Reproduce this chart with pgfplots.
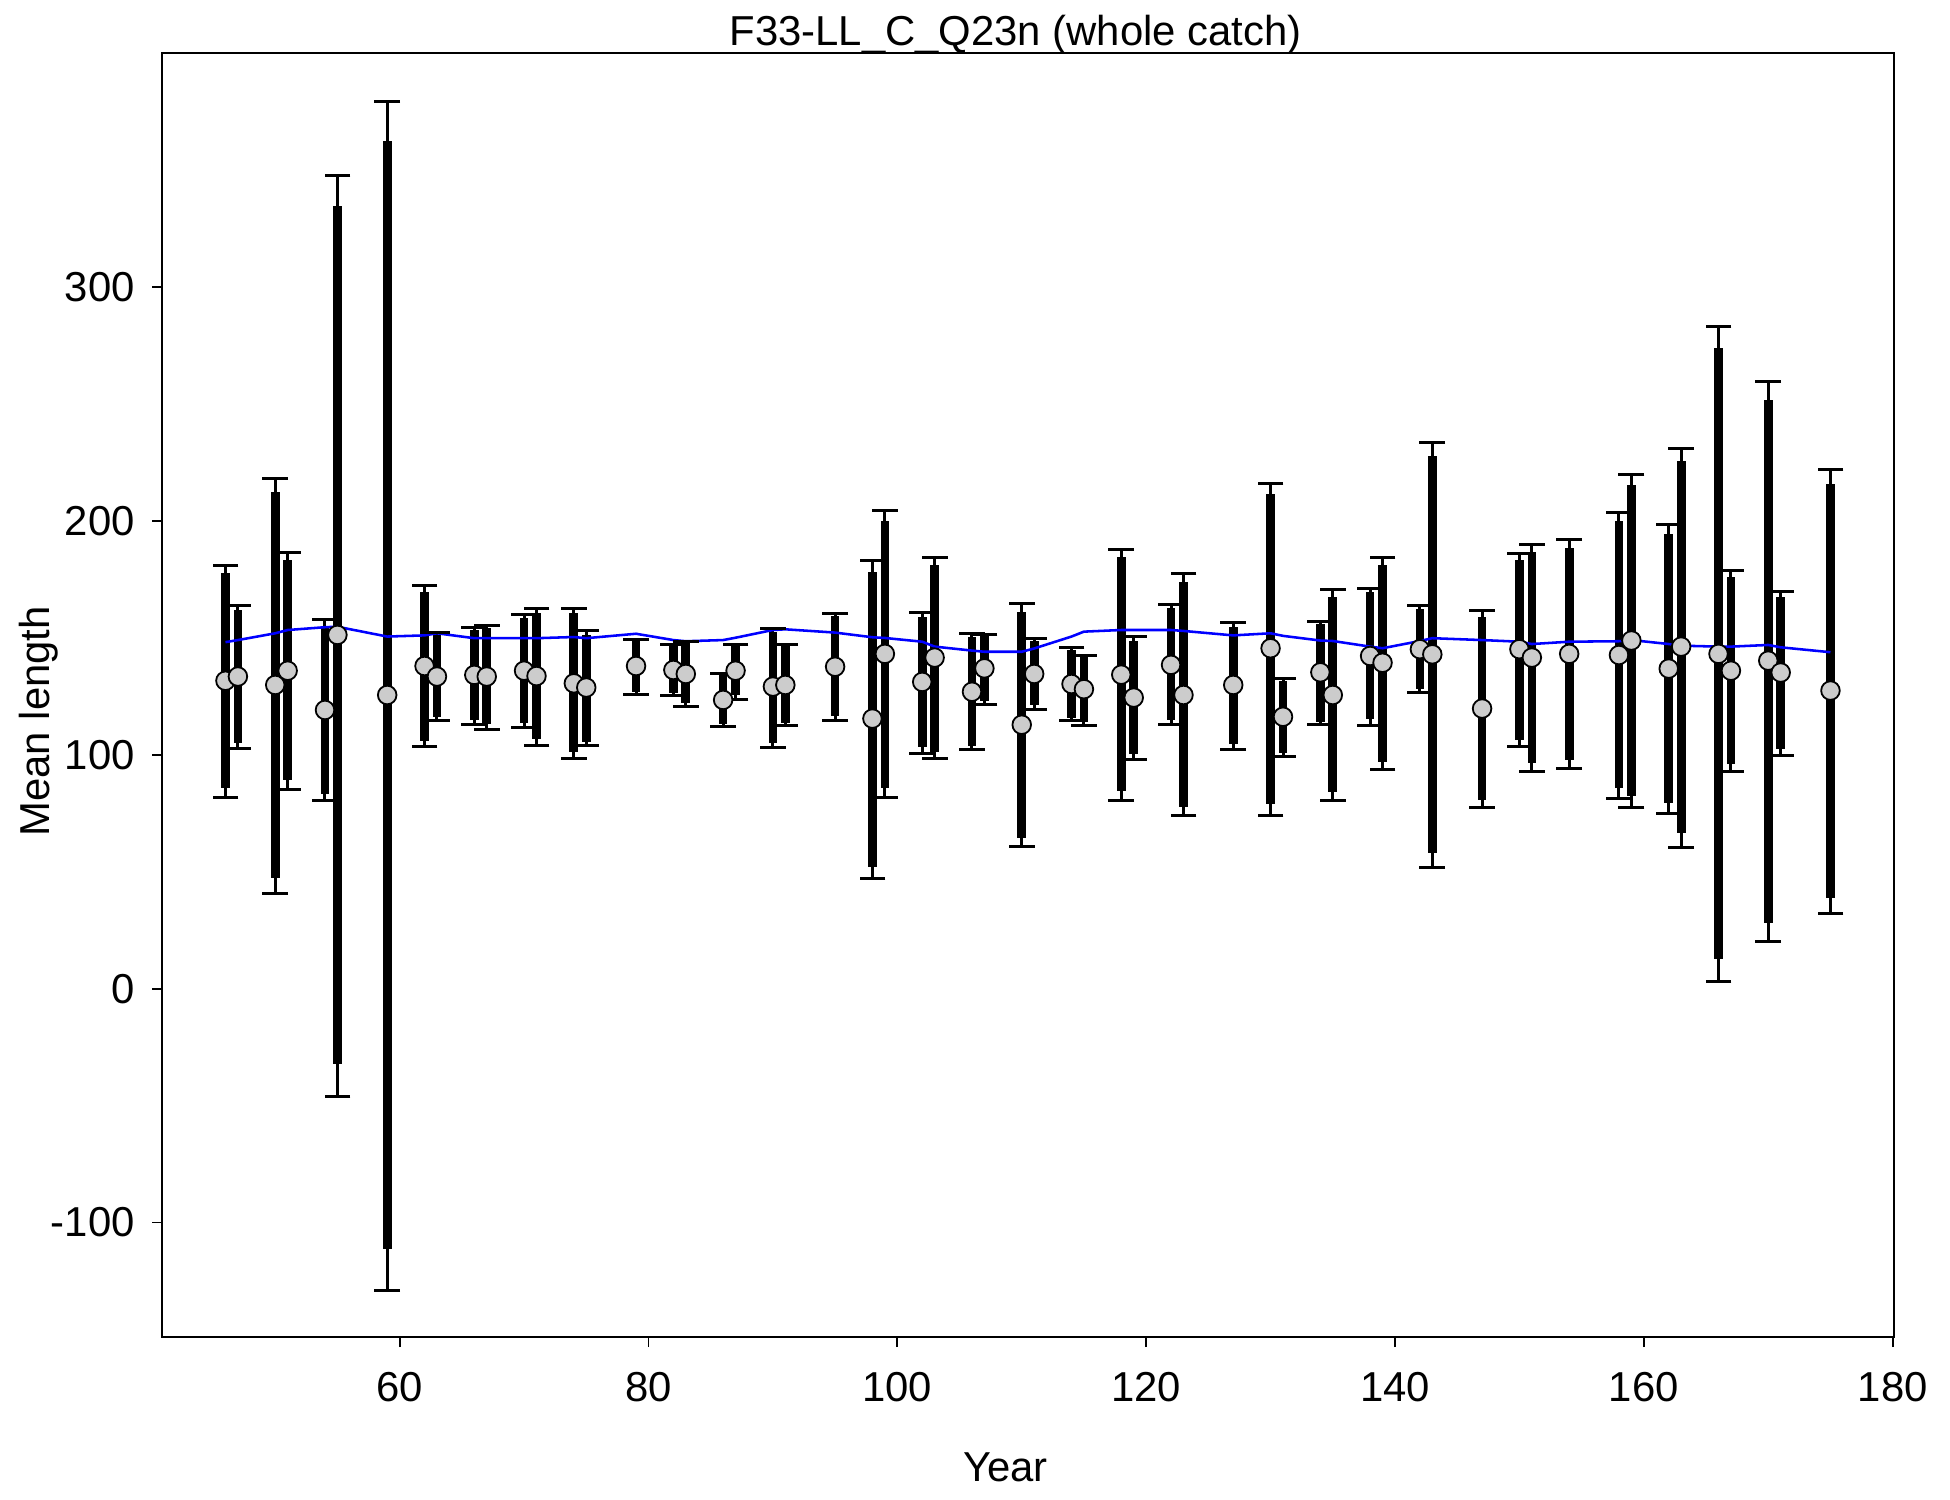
\documentclass[border=0pt]{standalone}
\usepackage{fontspec}
\setmainfont{Liberation Sans}
\usepackage{pgfplots}
\pgfplotsset{compat=1.18}
\usepackage{pgfplotstable}

% year, observed mean, outer CI (tlo,thi), inner CI (blo,bhi), expected
\pgfplotstableread{
x   m     tlo     thi    blo     bhi    e
46  131.7  81.9   181.1   85.7   177.7  148.2
47  133.5 102.8   164.0  105.2   162.0  149.1
50  129.9  40.8   218.3   47.2   212.3  152.0
51  136.0  85.3   186.7   89.3   183.4  153.4
54  119.2  80.3   158.0   83.3   154.1  154.6
55  151.3 -46.0   347.9  -32.3   334.8  154.8
59  125.6 -129.0  379.5 -111.3   362.6  150.6
62  138.0 103.7   172.5  106.1   169.8  151.1
63  133.5 114.8   152.3  116.3   151.3  152.0
66  134.2 113.1   154.6  114.9   153.4  149.9
67  133.5 110.9   155.4  113.1   154.1  149.9
70  136.0 111.9   160.1  113.8   158.4  149.9
71  133.7 104.1   162.7  106.7   160.6  149.9
74  130.6  98.5   162.7  101.1   160.6  150.4
75  128.8 103.8   153.3  105.6   151.3  149.9
79  138.0 125.9   149.4  127.0   149.1  151.8
82  136.3 125.2   147.4  126.3   147.0  149.1
83  134.6 120.9   148.4  122.1   147.7  148.6
86  123.5 112.1   134.9  113.2   134.6  149.1
87  136.0 123.8   147.3  125.6   147.0  150.1
90  129.2 103.2   154.1  105.2   152.7  153.4
91  129.9 112.4   147.3  113.8   146.6  153.7
95  137.7 114.5   160.6  116.6   159.4  152.3
98  115.5  47.2   183.2   52.2   178.4  150.3
99  143.2  81.9   204.3   86.0   200.0  150.0
102 131.2 100.7   161.0  103.2   159.1  148.4
103 141.6  98.5   184.2  101.4   181.2  146.3
106 127.0 102.1   152.0  103.9   150.3  144.6
107 137.0 121.6   151.6  123.2   150.9  144.1
110 112.9  60.7   164.8   64.3   161.0  144.1
111 134.6 119.5   149.9  121.2   148.7  145.5
114 130.3 114.6   145.9  115.9   144.9  150.6
115 128.1 112.7   142.6  114.2   142.0  152.7
118 134.3  80.3   187.9   84.6   184.8  153.4
119 124.5  98.1   150.6  100.2   148.7  153.4
122 138.5 112.8   164.4  114.9   162.7  153.4
123 125.6  73.9   177.5   77.8   174.1  153.0
127 129.9 102.4   156.7  104.7   154.8  151.1
130 145.6  73.9   216.2   78.9   211.6  152.0
131 116.3  99.5   132.8  100.7   131.6  150.9
134 135.3 112.8   157.1  114.2   156.0  148.9
135 125.6  80.7   170.8   84.0   167.4  148.7
138 142.3 112.7   171.3  115.2   169.5  146.3
139 139.4  93.8   184.5   97.1   181.2  145.6
142 145.2 126.8   163.7  128.1   162.4  148.7
143 143.0  51.9   233.7   58.2   227.8  149.9
147 119.8  77.6   161.8   80.7   158.9  149.1
150 145.2 103.5   186.2  106.4   183.4  148.4
151 141.6  93.0   190.1   96.7   186.9  147.4
154 143.2  94.3   191.9   97.8   188.4  148.4
158 142.7  81.4   203.7   86.0   200.2  148.6
159 148.9  77.6   220.0   82.6   215.4  149.1
162 136.9  75.0   198.6   79.3   194.5  147.4
163 146.3  60.5   231.1   66.5   225.7  146.7
166 143.2   3.1   283.3   12.8   273.9  146.3
167 136.0  92.7   179.0   96.0   176.2  146.3
170 140.3  20.0   259.8   28.2   251.8  147.0
171 135.2  99.8   170.0  102.5   167.7  146.0
175 127.5  32.2   222.2   38.9   215.9  143.9
}\meanlen

\definecolor{ptfill}{RGB}{204,204,204}

\begin{document}
\fontsize{14}{16}\selectfont
\begin{tikzpicture}
\begin{axis}[
  at={(0,0)}, anchor=south west,
  width=577.3bp, height=427.9bp, scale only axis,
  xmin=40.9, xmax=180.1, ymin=-149, ymax=400,
  xtick={60,80,...,180}, ytick={-100,0,...,300},
  xtick pos=bottom, ytick pos=left,
  tick align=outside, major tick length=3.3bp,
  tick style={black, line width=0.6bp},
  axis line style={line width=0.6bp},
  /pgf/number format/assume math mode=true,
  /pgf/number format/1000 sep={},
  ticklabel style={font=\fontsize{14}{16}\selectfont},
  xticklabel shift=3.5bp, yticklabel shift=1bp,
  every axis title shift=0pt,
  title={F33-LL\_C\_Q23n (whole catch)},
  title style={at={(axis description cs:0.4929,1.0145)}, anchor=center, inner sep=0pt, font=\fontsize{14}{16}\selectfont},
  xlabel={Year},
  xlabel style={at={(axis description cs:0.487,-0.1012)}, anchor=center, inner sep=0pt, font=\fontsize{14}{16}\selectfont},
  ylabel={Mean length},
  ylabel style={at={(axis description cs:-0.0713,0.4797)}, anchor=center, inner sep=0pt, font=\fontsize{14}{16}\selectfont},
]
% outer intervals
\addplot[black, only marks, mark=none,
  error bars/.cd, y dir=both, y explicit,
  error bar style={line width=1bp}, error mark=none]
  table[x=x, y=m, y error plus expr=\thisrow{thi}-\thisrow{m}, y error minus expr=\thisrow{m}-\thisrow{tlo}] {\meanlen};
% caps of outer intervals
\addplot[black, only marks, mark=-, mark size=4.3bp, mark options={line width=1bp}]
  table[x=x, y=thi] {\meanlen};
\addplot[black, only marks, mark=-, mark size=4.3bp, mark options={line width=1bp}]
  table[x=x, y=tlo] {\meanlen};
% inner intervals, thick
\addplot[black, only marks, mark=none,
  error bars/.cd, y dir=both, y explicit,
  error bar style={line width=2.9bp}, error mark=none]
  table[x=x, y=m, y error plus expr=\thisrow{bhi}-\thisrow{m}, y error minus expr=\thisrow{m}-\thisrow{blo}] {\meanlen};
% observed means
\addplot[only marks, mark=*, mark size=3.1bp,
  mark options={fill=ptfill, draw=black, line width=0.6bp}]
  table[x=x, y=m] {\meanlen};
% expected
\addplot[blue, line width=0.85bp, mark=none] table[x=x, y=e] {\meanlen};
\end{axis}
\pgfresetboundingbox
\path[use as bounding box] (-54bp,-54.3bp) rectangle (596bp,445.7bp);
\end{tikzpicture}
\end{document}
